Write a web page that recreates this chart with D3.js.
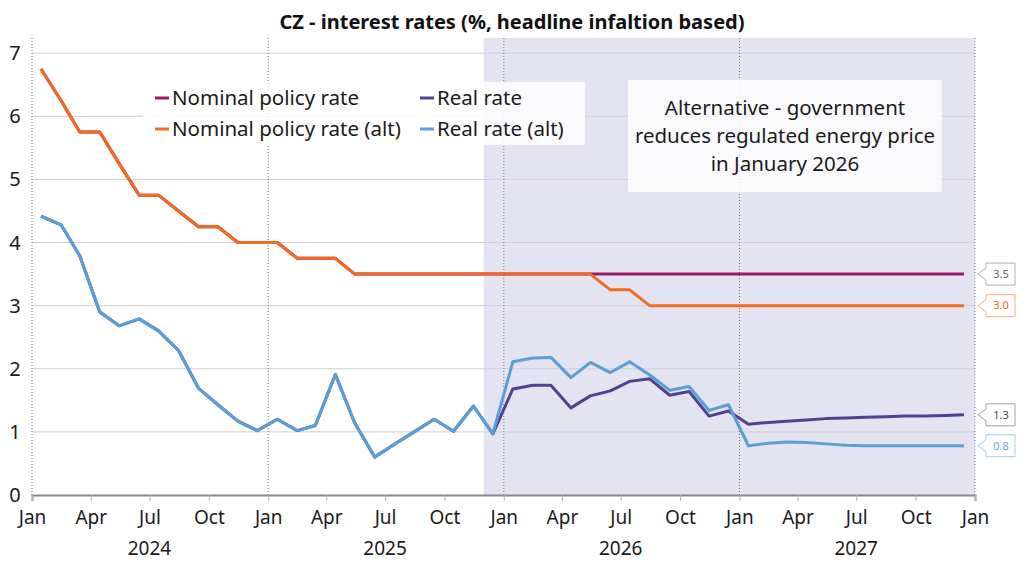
<!DOCTYPE html>
<html>
<head>
<meta charset="utf-8">
<script src="https://cdn.jsdelivr.net/npm/d3@7"></script>
<style>
  body { margin: 0; background: #fff; }
  text { font-family: "Noto Sans", sans-serif; }
</style>
</head>
<body>
<div id="chart"></div>
<script>
// monthly data, Jan 2024 - Dec 2027
const months = d3.range(48).map(i => new Date(2024, i, 15));

const nominal = [6.75, 6.25, 5.75, 5.75, 5.25, 4.75, 4.75, 4.5, 4.25, 4.25, 4.0, 4.0,
  4.0, 3.75, 3.75, 3.75, 3.5, 3.5, 3.5, 3.5, 3.5, 3.5, 3.5, 3.5,
  3.5, 3.5, 3.5, 3.5, 3.5, 3.5, 3.5, 3.5, 3.5, 3.5, 3.5, 3.5,
  3.5, 3.5, 3.5, 3.5, 3.5, 3.5, 3.5, 3.5, 3.5, 3.5, 3.5, 3.5];

const nominalAlt = [6.75, 6.25, 5.75, 5.75, 5.25, 4.75, 4.75, 4.5, 4.25, 4.25, 4.0, 4.0,
  4.0, 3.75, 3.75, 3.75, 3.5, 3.5, 3.5, 3.5, 3.5, 3.5, 3.5, 3.5,
  3.5, 3.5, 3.5, 3.5, 3.5, 3.25, 3.25, 3.0, 3.0, 3.0, 3.0, 3.0,
  3.0, 3.0, 3.0, 3.0, 3.0, 3.0, 3.0, 3.0, 3.0, 3.0, 3.0, 3.0];

const real = [4.42, 4.28, 3.79, 2.90, 2.68, 2.79, 2.60, 2.29, 1.69, 1.43, 1.17, 1.02,
  1.20, 1.02, 1.10, 1.91, 1.14, 0.60, 0.80, 1.00, 1.20, 1.01, 1.41, 0.97,
  1.68, 1.74, 1.74, 1.38, 1.57, 1.65, 1.80, 1.84, 1.58, 1.64, 1.25, 1.33,
  1.12, 1.15, 1.17, 1.19, 1.21, 1.22, 1.23, 1.24, 1.25, 1.25, 1.26, 1.27];

const realAlt = [4.42, 4.28, 3.79, 2.90, 2.68, 2.79, 2.60, 2.29, 1.69, 1.43, 1.17, 1.02,
  1.20, 1.02, 1.10, 1.91, 1.14, 0.60, 0.80, 1.00, 1.20, 1.01, 1.41, 0.97,
  2.11, 2.17, 2.18, 1.86, 2.10, 1.94, 2.11, 1.90, 1.66, 1.72, 1.34, 1.43,
  0.78, 0.82, 0.84, 0.83, 0.81, 0.79, 0.78, 0.78, 0.78, 0.78, 0.78, 0.78];

const yTicks = [0, 1, 2, 3, 4, 5, 6, 7];
const years = [2024, 2025, 2026, 2027];
const monthNames = ["Jan", "Apr", "Jul", "Oct"];

const series = [
  { name: "Nominal policy rate", values: nominal, color: "#9b1768", boxStroke: "#b0b0b0", label: "#666" },
  { name: "Real rate", values: real, color: "#4f4390", boxStroke: "#a0a0a8", label: "#4a4a5a" },
  { name: "Nominal policy rate (alt)", values: nominalAlt, color: "#f26b21", boxStroke: "#f5ae80", label: "#e8691e" },
  { name: "Real rate (alt)", values: realAlt, color: "#5b9fd6", boxStroke: "#a9cbe8", label: "#6ea8da" }
];

const width = 1024, height = 576;
const margin = { top: 38, right: 49, bottom: 81, left: 32 };

const svg = d3.select("#chart").append("svg")
  .attr("width", width)
  .attr("height", height);

const x = d3.scaleTime()
  .domain([new Date(2024, 0, 1), new Date(2028, 0, 1)])
  .range([margin.left, width - margin.right]);

const y = d3.scaleLinear()
  .domain([0, 7.24])
  .range([height - margin.bottom, margin.top]);

// forecast shading
svg.append("rect")
  .attr("x", x(new Date(2025, 11, 1)))
  .attr("y", margin.top)
  .attr("width", x(new Date(2028, 0, 1)) - x(new Date(2025, 11, 1)))
  .attr("height", y(0) - margin.top)
  .attr("fill", "#e3e3f1");

// horizontal gridlines
svg.append("g")
  .selectAll("line")
  .data(yTicks.filter(d => d > 0))
  .join("line")
  .attr("x1", margin.left)
  .attr("x2", width - margin.right)
  .attr("y1", d => y(d))
  .attr("y2", d => y(d))
  .attr("stroke", "#cfcfd4")
  .attr("stroke-width", 1);

// dotted year separators
svg.append("g")
  .selectAll("line")
  .data(d3.range(2024, 2029))
  .join("line")
  .attr("x1", d => x(new Date(d, 0, 1)))
  .attr("x2", d => x(new Date(d, 0, 1)))
  .attr("y1", margin.top)
  .attr("y2", y(0))
  .attr("stroke", "#777")
  .attr("stroke-width", 1)
  .attr("stroke-dasharray", "1,2");

// x axis
const quarterTicks = d3.timeMonth.every(3).range(new Date(2024, 0, 1), new Date(2028, 0, 2));
const xAxis = svg.append("g")
  .attr("transform", `translate(0,${y(0)})`)
  .call(d3.axisBottom(x)
    .tickValues(quarterTicks)
    .tickSize(6)
    .tickPadding(10)
    .tickFormat(d => monthNames[d.getMonth() / 3]));
xAxis.select(".domain").attr("stroke", "#8a8a8a").attr("stroke-width", 2);
xAxis.selectAll(".tick line").attr("stroke", "#b5b5b5");
xAxis.selectAll(".tick text")
  .attr("fill", "#1a1a1a")
  .style("font-size", "19px");

svg.append("g")
  .selectAll("text")
  .data(years)
  .join("text")
  .attr("x", d => x(new Date(d, 6, 1)))
  .attr("y", 555)
  .attr("text-anchor", "middle")
  .attr("fill", "#1a1a1a")
  .style("font-size", "19px")
  .text(d => d);

// y axis labels
svg.append("g")
  .selectAll("text")
  .data(yTicks)
  .join("text")
  .attr("x", 15)
  .attr("y", d => y(d))
  .attr("dy", "0.35em")
  .attr("text-anchor", "middle")
  .attr("fill", "#1a1a1a")
  .style("font-size", "20px")
  .text(d => d);

// lines
const line = d3.line()
  .x((d, i) => x(months[i]))
  .y(d => y(d));

svg.append("g")
  .selectAll("path")
  .data(series)
  .join("path")
  .attr("d", d => line(d.values))
  .attr("fill", "none")
  .attr("stroke", d => d.color)
  .attr("stroke-width", 3)
  .attr("stroke-linejoin", "round");

// end-value callouts
const tipX = x(new Date(2028, 0, 1)) + 3;
const callouts = svg.append("g")
  .selectAll("g")
  .data(series)
  .join("g")
  .attr("transform", d => `translate(${tipX},${y(d.values[d.values.length - 1])})`);

callouts.append("path")
  .attr("d", "M0,0 L8,-6 L8,-11 L37,-11 L37,11 L8,11 L8,6 Z")
  .attr("fill", "#fff")
  .attr("stroke", d => d.boxStroke)
  .attr("stroke-width", 1);

callouts.append("text")
  .attr("x", 23)
  .attr("dy", "0.35em")
  .attr("text-anchor", "middle")
  .attr("fill", d => d.label)
  .style("font-size", "11px")
  .text(d => d3.format(".1f")(d.values[d.values.length - 1]));

// legend
svg.append("rect")
  .attr("x", 143).attr("y", 82)
  .attr("width", 442).attr("height", 63)
  .attr("fill", "#fff")
  .attr("fill-opacity", 0.85);

const legendPos = [[155, 98], [420, 98], [155, 129], [420, 129]];
const legend = svg.append("g")
  .selectAll("g")
  .data(series)
  .join("g")
  .attr("transform", (d, i) => `translate(${legendPos[i][0]},${legendPos[i][1]})`);

legend.append("line")
  .attr("x1", 0).attr("x2", 14)
  .attr("stroke", d => d.color)
  .attr("stroke-width", 3);

legend.append("text")
  .attr("x", 17)
  .attr("dy", "0.35em")
  .attr("fill", "#1a1a1a")
  .style("font-size", "20.5px")
  .text(d => d.name);

// annotation
svg.append("rect")
  .attr("x", 628).attr("y", 80)
  .attr("width", 314).attr("height", 112)
  .attr("fill", "#fff")
  .attr("fill-opacity", 0.8);

svg.append("text")
  .attr("x", 785)
  .attr("y", 108)
  .attr("text-anchor", "middle")
  .attr("fill", "#1a1a1a")
  .style("font-size", "20.5px")
  .selectAll("tspan")
  .data(["Alternative - government", "reduces regulated energy price", "in January 2026"])
  .join("tspan")
  .attr("x", 785)
  .attr("dy", (d, i) => i === 0 ? "0.35em" : "1.35em")
  .text(d => d);

// title
svg.append("text")
  .attr("x", 512)
  .attr("y", 22)
  .attr("dy", "0.35em")
  .attr("text-anchor", "middle")
  .attr("fill", "#111")
  .style("font-size", "20px")
  .style("font-weight", "bold")
  .text("CZ - interest rates (%, headline infaltion based)");
</script>
</body>
</html>
